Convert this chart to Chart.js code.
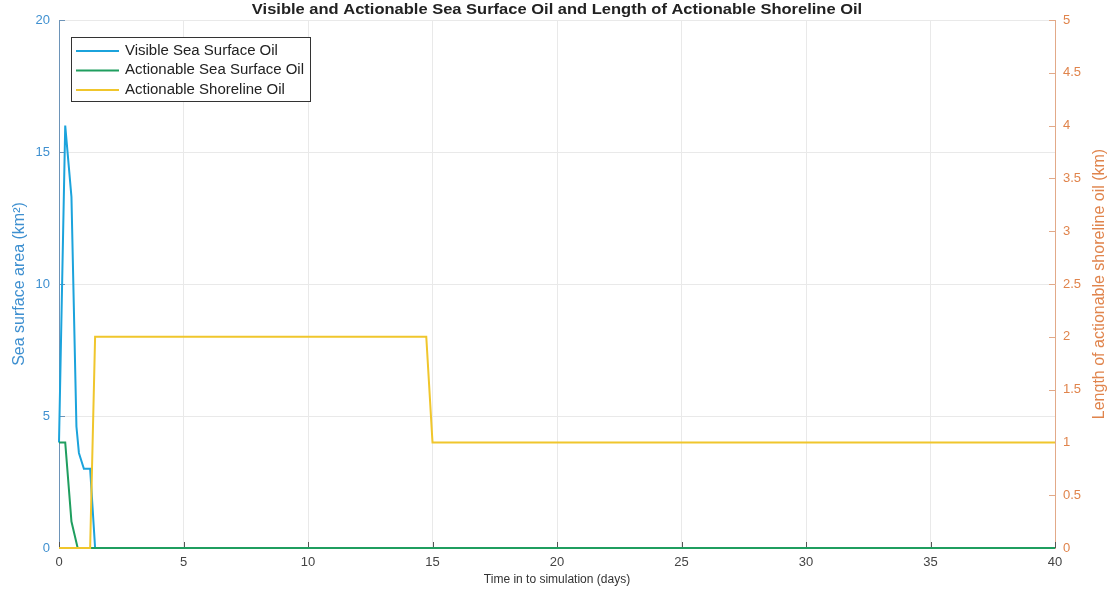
<!DOCTYPE html>
<html>
<head>
<meta charset="utf-8">
<title>Sea Surface Oil and Shoreline Oil</title>
<script src="https://cdn.jsdelivr.net/npm/chart.js@4.4.1/dist/chart.umd.min.js"></script>
<style>
    html, body { margin: 0; padding: 0; background: #ffffff; }
    #wrap { width: 1112px; height: 598px; position: relative; }
</style>
</head>
<body>
<div id="wrap"><canvas id="oilChart"></canvas></div>
<script>
// ========== DADOS ==========
const visibleDays = [0, 0.25, 0.5, 0.7, 0.8, 1.0, 1.25, 1.45, 40];
const visibleArea = [4, 16, 13.3, 4.6, 3.6, 3.0, 3.0, 0, 0];

const actionableDays = [0, 0.25, 0.5, 0.75, 40];
const actionableArea = [4, 4, 1, 0, 0];

const shoreDays = [0, 1.25, 1.45, 14.75, 15, 40];
const shoreKm = [0, 0, 2, 2, 1, 1];

const xTicks = [0, 5, 10, 15, 20, 25, 30, 35, 40];
const leftTicks = [0, 5, 10, 15, 20];
const rightTicks = [0, 0.5, 1, 1.5, 2, 2.5, 3, 3.5, 4, 4.5, 5];

const seriesNames = ['Visible Sea Surface Oil', 'Actionable Sea Surface Oil', 'Actionable Shoreline Oil'];
const chartTitle = 'Visible and Actionable Sea Surface Oil and Length of Actionable Shoreline Oil';

const COLORS = {
    visible: '#1ba3dc',
    actionable: '#1f9e5f',
    shore: '#f0c62c',
    leftAxis: '#3f90d0',
    rightAxis: '#e0844c',
    grid: '#e9e9e9'
};

const FONT = "'Liberation Sans', Arial, sans-serif";

function toPoints(xs, ys) {
    return xs.map((x, i) => ({ x: x, y: ys[i] }));
}

// texto com leve esticamento horizontal
function wideText(ctx, text, x, y, sx) {
    ctx.save();
    ctx.translate(x, y);
    ctx.scale(sx, 1);
    ctx.fillText(text, 0, 0);
    ctx.restore();
}

// ticks para dentro, como no MATLAB
const innerTicks = {
    id: 'innerTicks',
    beforeDatasetsDraw(chart) {
        const { ctx, chartArea: a, scales } = chart;
        ctx.save();
        ctx.lineWidth = 1;
        ctx.strokeStyle = '#555555';
        ctx.beginPath();
        xTicks.forEach(v => {
            const px = Math.round(scales.x.getPixelForValue(v)) + 0.5;
            ctx.moveTo(px, a.bottom);
            ctx.lineTo(px, a.bottom - 6);
        });
        ctx.stroke();
        ctx.strokeStyle = '#6d94b8';
        ctx.beginPath();
        leftTicks.forEach(v => {
            const py = Math.round(scales.y.getPixelForValue(v)) + 0.5;
            ctx.moveTo(a.left, py);
            ctx.lineTo(a.left + 6, py);
        });
        ctx.stroke();
        ctx.strokeStyle = '#e2a988';
        ctx.beginPath();
        rightTicks.forEach(v => {
            const py = Math.round(scales.y1.getPixelForValue(v)) + 0.5;
            ctx.moveTo(a.right, py);
            ctx.lineTo(a.right - 6, py);
        });
        ctx.stroke();
        ctx.restore();
    }
};

// título, títulos verticais e legenda
const extras = {
    id: 'extras',
    afterDraw(chart) {
        const { ctx, chartArea: a } = chart;
        const midY = (a.top + a.bottom) / 2;
        ctx.save();

        ctx.font = 'bold 15px ' + FONT;
        ctx.textAlign = 'center';
        ctx.textBaseline = 'middle';
        ctx.fillStyle = '#222222';
        wideText(ctx, chartTitle, (a.left + a.right) / 2, 10, 1.1);

        ctx.font = '16px ' + FONT;

        ctx.save();
        ctx.translate(20, midY);
        ctx.rotate(-Math.PI / 2);
        ctx.fillStyle = COLORS.leftAxis;
        ctx.fillText('Sea surface area (km²)', 0, 0);
        ctx.restore();

        ctx.save();
        ctx.translate(1100, midY);
        ctx.rotate(-Math.PI / 2);
        ctx.fillStyle = COLORS.rightAxis;
        ctx.fillText('Length of actionable shoreline oil (km)', 0, 0);
        ctx.restore();

        // legenda
        const box = { x: 71.5, y: 37.5, w: 239, h: 64 };
        ctx.fillStyle = '#ffffff';
        ctx.fillRect(box.x, box.y, box.w, box.h);
        ctx.strokeStyle = '#333333';
        ctx.lineWidth = 1;
        ctx.strokeRect(box.x, box.y, box.w, box.h);
        const lineColors = [COLORS.visible, COLORS.actionable, COLORS.shore];
        ctx.font = '14px ' + FONT;
        ctx.textAlign = 'left';
        seriesNames.forEach((name, i) => {
            const y = 51 + i * 19.5;
            ctx.strokeStyle = lineColors[i];
            ctx.lineWidth = 2;
            ctx.beginPath();
            ctx.moveTo(76, y);
            ctx.lineTo(119, y);
            ctx.stroke();
            ctx.fillStyle = '#222222';
            wideText(ctx, name, 125, y, 1.07);
        });
        ctx.restore();
    }
};

new Chart(document.getElementById('oilChart'), {
    type: 'line',
    data: {
        datasets: [{
            label: seriesNames[2],
            data: toPoints(shoreDays, shoreKm),
            borderColor: COLORS.shore,
            yAxisID: 'y1'
        }, {
            label: seriesNames[1],
            data: toPoints(actionableDays, actionableArea),
            borderColor: COLORS.actionable,
            yAxisID: 'y'
        }, {
            label: seriesNames[0],
            data: toPoints(visibleDays, visibleArea),
            borderColor: COLORS.visible,
            yAxisID: 'y'
        }]
    },
    options: {
        responsive: true,
        maintainAspectRatio: false,
        animation: false,
        layout: { padding: { top: 20 } },
        datasets: { line: { clip: 4 } },
        elements: {
            line: { borderWidth: 2, tension: 0, fill: false },
            point: { radius: 0, hoverRadius: 0 }
        },
        plugins: {
            legend: { display: false },
            tooltip: { enabled: false },
            title: { display: false }
        },
        scales: {
            x: {
                type: 'linear',
                min: 0,
                max: 40,
                afterFit: s => { s.height = 50; },
                afterBuildTicks: s => { s.ticks = xTicks.map(v => ({ value: v })); },
                ticks: {
                    color: '#444444',
                    font: { family: FONT, size: 13 },
                    padding: 7,
                    maxRotation: 0
                },
                grid: { color: COLORS.grid, drawTicks: false },
                border: { color: '#888888' },
                title: {
                    display: true,
                    text: 'Time in to simulation (days)',
                    color: '#333333',
                    font: { family: FONT, size: 12 },
                    padding: { top: 0, bottom: 11 }
                }
            },
            y: {
                position: 'left',
                min: 0,
                max: 20,
                afterFit: s => { s.width = 59; },
                afterBuildTicks: s => { s.ticks = leftTicks.map(v => ({ value: v })); },
                ticks: {
                    color: COLORS.leftAxis,
                    font: { family: FONT, size: 13 },
                    padding: 9
                },
                grid: { color: COLORS.grid, drawTicks: false },
                border: { color: '#6d94b8' }
            },
            y1: {
                position: 'right',
                min: 0,
                max: 5,
                afterFit: s => { s.width = 57; },
                afterBuildTicks: s => { s.ticks = rightTicks.map(v => ({ value: v })); },
                ticks: {
                    color: COLORS.rightAxis,
                    font: { family: FONT, size: 13 },
                    padding: 8,
                    callback: v => String(v)
                },
                grid: { drawOnChartArea: false, drawTicks: false },
                border: { color: '#e2a988' }
            }
        }
    },
    plugins: [innerTicks, extras]
});
</script>
</body>
</html>
